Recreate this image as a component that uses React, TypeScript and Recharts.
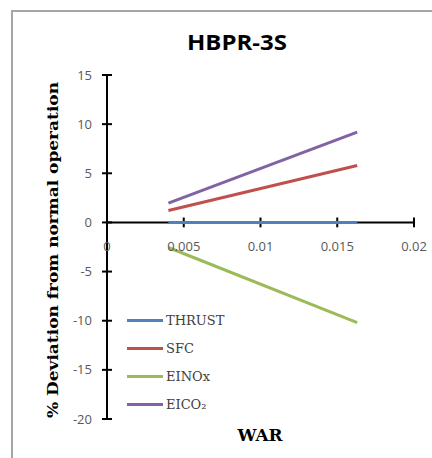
import React from 'react';
import { LineChart, Line, XAxis, YAxis, ReferenceLine, ReferenceDot, Legend } from 'recharts';

const warValues = [0.004, 0.0163];
const thrust = [0, 0];
const sfc = [1.22, 5.8];
const einox = [-2.55, -10.2];
const eico2 = [1.96, 9.19];

const seriesNames = ['THRUST', 'SFC', 'EINOx', 'EICO\u2082'];
const seriesColors = ['#4F81BD', '#C0504D', '#9BBB59', '#8064A2'];
const yTicks = [-20, -15, -10, -5, 0, 5, 10, 15];
const xTicks = [0, 0.005, 0.01, 0.015, 0.02];
const xTickLabels = ['0', '0.005', '0.01', '0.015', '0.02'];

const data = warValues.map((w, i) => ({
  war: w,
  s0: thrust[i],
  s1: sfc[i],
  s2: einox[i],
  s3: eico2[i],
}));

const tickFont = '"Open Sans", "Liberation Sans", sans-serif';
const serif = '"DejaVu Serif", "Liberation Serif", serif';

const YTick = (props: any) => {
  const { x, y, payload } = props;
  return (
    <g>
      <line x1={x - 5} x2={x + 5} y1={y} y2={y} stroke="#000" strokeWidth={2} />
      <text x={x - 15} y={y} dy="0.35em" textAnchor="end" fill="#595959" fontSize={13} fontFamily={tickFont}>
        {payload.value}
      </text>
    </g>
  );
};

const LegendContent = (props: any) => {
  const payload = [...(props.payload || [])].sort(
    (a: any, b: any) => seriesNames.indexOf(a.value) - seriesNames.indexOf(b.value)
  );
  return (
    <div style={{ display: 'flex', flexDirection: 'column' }}>
      {payload.map((p: any) => (
        <div key={p.value} style={{ display: 'flex', alignItems: 'center', height: 27.8 }}>
          <div style={{ width: 36, height: 3, background: p.color, marginRight: 3 }} />
          <span style={{ fontFamily: serif, fontSize: 13, color: '#404040' }}>{p.value}</span>
        </div>
      ))}
    </div>
  );
};

export default function App() {
  return (
    <div style={{ position: 'absolute', left: 0, top: 0, width: 432, height: 458, background: '#fff', overflow: 'hidden' }}>
      <div
        style={{
          position: 'absolute',
          left: 11,
          top: 10,
          width: 500,
          height: 500,
          borderTop: '2px solid #a6a6a6',
          borderLeft: '2px solid #a6a6a6',
        }}
      />
      <div style={{ position: 'absolute', left: 0, top: 0 }}>
        <LineChart width={432} height={458} data={data} margin={{ top: 75, right: 18, bottom: 39, left: 47 }}>
          <XAxis dataKey="war" type="number" domain={[0, 0.02]} ticks={xTicks} hide />
          <YAxis
            type="number"
            domain={[-20, 15]}
            ticks={yTicks}
            width={60}
            axisLine={{ stroke: '#000', strokeWidth: 2 }}
            tickLine={false}
            tickSize={0}
            tickMargin={0}
            tick={<YTick />}
            interval={0}
          />
          <ReferenceLine y={0} stroke="#000" strokeWidth={2} ifOverflow="visible" />
          {xTicks.slice(1).map((t) => (
            <ReferenceLine
              key={'tk' + t}
              segment={[{ x: t, y: -0.5 }, { x: t, y: 0.5 }]}
              stroke="#000"
              strokeWidth={2}
              ifOverflow="visible"
            />
          ))}
          {xTicks.map((t, i) => (
            <ReferenceDot
              key={'tl' + t}
              x={t}
              y={0}
              r={0}
              fill="none"
              stroke="none"
              ifOverflow="visible"
              label={{ value: xTickLabels[i], position: 'bottom', offset: 19, fill: '#595959', fontSize: 13, fontFamily: tickFont }}
            />
          ))}
          {seriesNames.map((n, i) => (
            <Line
              key={n}
              type="linear"
              dataKey={'s' + i}
              name={n}
              stroke={seriesColors[i]}
              strokeWidth={3}
              dot={false}
              isAnimationActive={false}
            />
          ))}
          <Legend
            layout="vertical"
            align="center"
            verticalAlign="middle"
            content={<LegendContent />}
            wrapperStyle={{ position: 'absolute', left: 127, top: 307, width: 120 }}
          />
        </LineChart>
      </div>
      <svg width={432} height={458} style={{ position: 'absolute', left: 0, top: 0, pointerEvents: 'none' }}>
        <text x={237} y={42} dy="0.35em" textAnchor="middle" fontFamily={tickFont} fontWeight="bold" fontSize={22} fill="#000" textLength={100} lengthAdjust="spacingAndGlyphs">
          HBPR-3S
        </text>
        <text x={260} y={435} dy="0.35em" textAnchor="middle" fontFamily={serif} fontWeight="bold" fontSize={16} fill="#000" textLength={45} lengthAdjust="spacingAndGlyphs">
          WAR
        </text>
        <text
          x={0}
          y={0}
          dy="0.35em"
          textAnchor="middle"
          fontFamily={serif}
          fontWeight="bold"
          fontSize={14}
          fill="#000"
          textLength={336}
          lengthAdjust="spacingAndGlyphs"
          transform="translate(53,250) rotate(-90)"
        >
          % Deviation from normal operation
        </text>
      </svg>
    </div>
  );
}
